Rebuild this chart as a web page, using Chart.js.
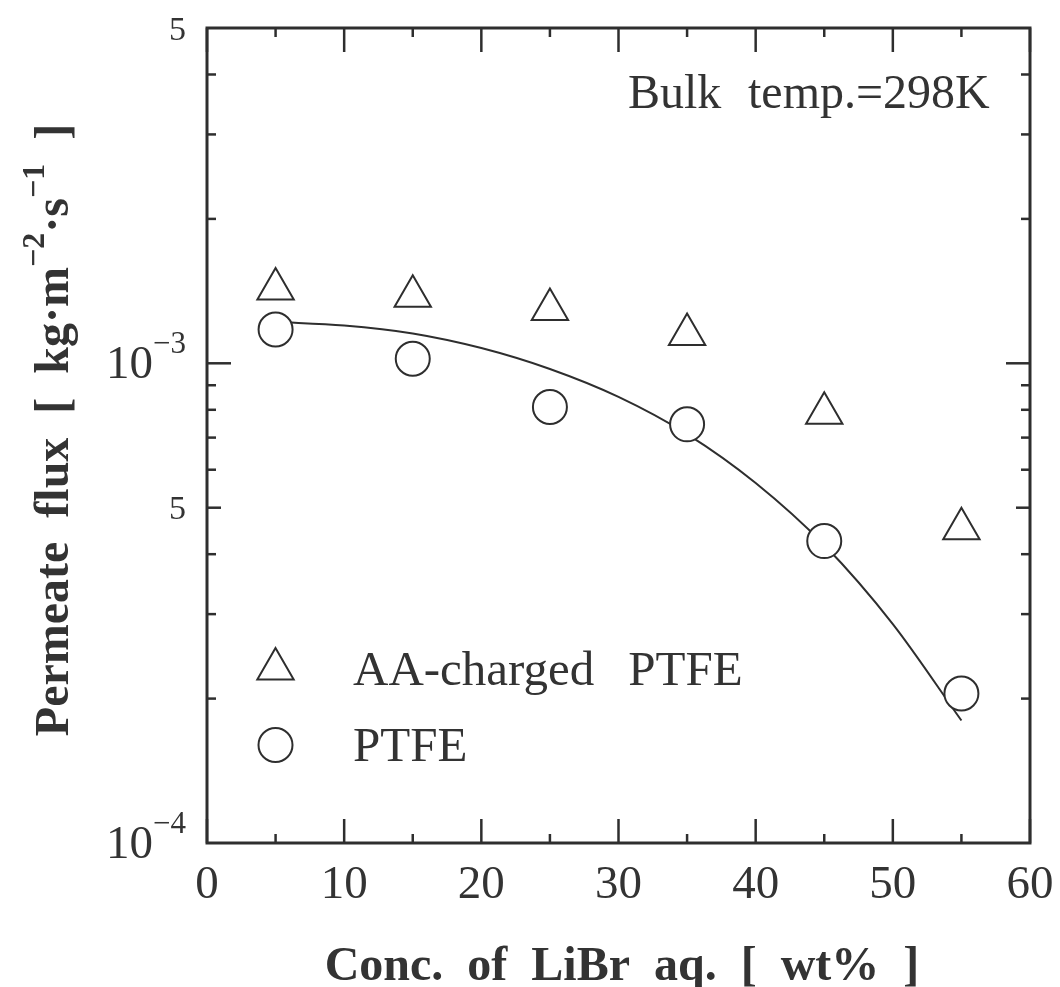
<!DOCTYPE html>
<html>
<head>
<meta charset="utf-8">
<title>Permeate flux vs. LiBr concentration</title>
<script src="https://cdn.jsdelivr.net/npm/chart.js@4.4.1/dist/chart.umd.min.js"></script>
<style>
  html, body { margin: 0; padding: 0; background: #ffffff; }
  canvas { display: block; }
</style>
</head>
<body>
<canvas id="chart" width="1060" height="987"></canvas>
<script>
// LiBr concentration [wt%] of the measured runs
const concentrations = [5, 15, 25, 35, 45, 55];
// Permeate flux [kg m^-2 s^-1]
const fluxAACharged = [1.428e-3, 1.379e-3, 1.295e-3, 1.148e-3, 7.87e-4, 4.52e-4];
const fluxPTFE = [1.176e-3, 1.022e-3, 8.11e-4, 7.46e-4, 4.26e-4, 2.05e-4];
// Fitted curve through the PTFE data
const fitConc = [5, 10, 15, 20, 25, 30, 35, 40, 45, 50, 55];
const fitFlux = [1.22e-3, 1.199e-3, 1.154e-3, 1.076e-3, 9.73e-4, 8.51e-4, 7.12e-4, 5.63e-4, 4.18e-4, 2.86e-4, 1.80e-4];

const seriesNames = ['AA-charged PTFE', 'PTFE'];

// Axis ticks
const xMajorTicks = [0, 10, 20, 30, 40, 50, 60];
const xMinorTicks = [5, 15, 25, 35, 45, 55];
const yMajorTicks = [1e-3];
const yMidTicks = [5e-4];
const yMinorTicks = [2e-4, 3e-4, 4e-4, 6e-4, 7e-4, 8e-4, 9e-4, 2e-3, 3e-3, 4e-3];
const yLabelValues = [5e-3, 1e-3, 5e-4, 1e-4];
const yLabelBases = ['5', '10', '5', '10'];
const yLabelExps = ['', '\u22123', '', '\u22124'];

const INK = '#2e2e2e';
const TEXT = '#333333';
const SERIF = "'Liberation Serif', 'Times New Roman', serif";

function points(xs, ys) {
  return xs.map((x, i) => ({ x: x, y: ys[i] }));
}

function line(ctx, x1, y1, x2, y2) {
  ctx.beginPath();
  ctx.moveTo(x1, y1);
  ctx.lineTo(x2, y2);
  ctx.stroke();
}

function marker(ctx, style, r, x, y) {
  ctx.save();
  ctx.strokeStyle = INK;
  ctx.fillStyle = '#ffffff';
  ctx.lineWidth = 2;
  if (Chart.helpers && Chart.helpers.drawPoint) {
    Chart.helpers.drawPoint(ctx, { pointStyle: style, radius: r, borderWidth: 2, rotation: 0 }, x, y);
  } else {
    ctx.beginPath();
    if (style === 'triangle') {
      for (let k = 0; k < 3; k++) {
        const a = k * 2 * Math.PI / 3;
        const px = x + Math.sin(a) * r, py = y - Math.cos(a) * r;
        if (k === 0) ctx.moveTo(px, py); else ctx.lineTo(px, py);
      }
      ctx.closePath();
    } else {
      ctx.arc(x, y, r, 0, 2 * Math.PI);
    }
    ctx.fill();
    ctx.stroke();
  }
  ctx.restore();
}

// Text with widened gaps between words
function spacedText(ctx, text, x, y, gap) {
  let cx = x;
  text.split(' ').forEach(word => {
    ctx.fillText(word, cx, y);
    cx += ctx.measureText(word).width + gap;
  });
}

// Draws the frame, inward ticks, tick labels, titles, legend and note
const decorations = {
  id: 'decorations',
  afterDraw(chart) {
    const ctx = chart.ctx;
    const a = chart.chartArea;
    const xs = chart.scales.x;
    const ys = chart.scales.y;

    ctx.save();
    ctx.strokeStyle = INK;
    ctx.lineCap = 'butt';

    // ticks on all four sides, pointing inwards
    ctx.lineWidth = 2.5;
    const xTick = (v, len) => {
      const px = xs.getPixelForValue(v);
      line(ctx, px, a.bottom, px, a.bottom - len);
      line(ctx, px, a.top, px, a.top + len);
    };
    const yTick = (v, len) => {
      const py = ys.getPixelForValue(v);
      line(ctx, a.left, py, a.left + len, py);
      line(ctx, a.right, py, a.right - len, py);
    };
    xMajorTicks.forEach(v => xTick(v, 24));
    xMinorTicks.forEach(v => xTick(v, 9));
    yMajorTicks.forEach(v => yTick(v, 24));
    yMidTicks.forEach(v => yTick(v, 14));
    yMinorTicks.forEach(v => yTick(v, 9));

    // frame
    ctx.lineWidth = 3;
    ctx.strokeRect(a.left, a.top, a.right - a.left, a.bottom - a.top);

    ctx.fillStyle = TEXT;

    // x tick labels
    ctx.font = '47px ' + SERIF;
    ctx.textAlign = 'center';
    ctx.textBaseline = 'alphabetic';
    xMajorTicks.forEach(v => {
      ctx.fillText(String(v), xs.getPixelForValue(v), a.bottom + 55);
    });

    // y tick labels (powers of ten with raised exponents)
    const labelRight = a.left - 21;
    yLabelValues.forEach((v, i) => {
      const py = ys.getPixelForValue(v);
      const exp = yLabelExps[i];
      ctx.textBaseline = 'alphabetic';
      if (exp) {
        ctx.font = '31px ' + SERIF;
        const ew = ctx.measureText(exp).width;
        ctx.textAlign = 'left';
        ctx.fillText(exp, labelRight - ew, py - 10);
        ctx.font = '47px ' + SERIF;
        ctx.textAlign = 'right';
        ctx.fillText(yLabelBases[i], labelRight - ew, py + 15);
      } else {
        ctx.font = '34px ' + SERIF;
        ctx.textAlign = 'right';
        ctx.fillText(yLabelBases[i], labelRight, py + 11.5);
      }
    });

    // x axis title
    ctx.font = 'bold 48px ' + SERIF;
    ctx.textAlign = 'center';
    ctx.textBaseline = 'alphabetic';
    ctx.fillText('Conc.  of  LiBr  aq.  [  wt%  ]', 622, 980);

    // y axis title, rotated, with superscript exponents
    const pieces = [
      ['Permeate  flux  [  kg\u00b7m', false],
      ['\u22122', true],
      ['\u00b7s', false],
      ['\u22121', true],
      ['  ]', false]
    ];
    const mainFont = 'bold 48px ' + SERIF;
    const supFont = 'bold 32px ' + SERIF;
    let total = 0;
    pieces.forEach(p => { ctx.font = p[1] ? supFont : mainFont; total += ctx.measureText(p[0]).width; });
    ctx.save();
    ctx.translate(68, 430);
    ctx.rotate(-Math.PI / 2);
    ctx.textAlign = 'left';
    let cx = -total / 2;
    pieces.forEach(p => {
      ctx.font = p[1] ? supFont : mainFont;
      ctx.fillText(p[0], cx, p[1] ? -24 : 0);
      cx += ctx.measureText(p[0]).width;
    });
    ctx.restore();

    // note
    ctx.font = '48px ' + SERIF;
    ctx.textAlign = 'left';
    ctx.fillText('Bulk', 628, 108);
    ctx.fillText('temp.=298K', 748, 108);

    // legend
    marker(ctx, 'triangle', 21, 275.5, 669);
    marker(ctx, 'circle', 17, 275.5, 745);
    ctx.fillStyle = TEXT;
    ctx.font = '49px ' + SERIF;
    ctx.textAlign = 'left';
    spacedText(ctx, seriesNames[0], 353, 685, 34);
    spacedText(ctx, seriesNames[1], 353, 761, 34);

    ctx.restore();
  }
};

new Chart(document.getElementById('chart'), {
  type: 'scatter',
  data: {
    datasets: [
      {
        label: 'fit',
        data: points(fitConc, fitFlux),
        showLine: true,
        borderColor: INK,
        borderWidth: 2,
        pointRadius: 0,
        cubicInterpolationMode: 'monotone',
        fill: false,
        order: 3
      },
      {
        label: seriesNames[0],
        data: points(concentrations, fluxAACharged),
        pointStyle: 'triangle',
        pointRadius: 21,
        pointBorderWidth: 2,
        borderColor: INK,
        backgroundColor: 'rgba(255,255,255,0)',
        order: 1
      },
      {
        label: seriesNames[1],
        data: points(concentrations, fluxPTFE),
        pointStyle: 'circle',
        pointRadius: 17,
        pointBorderWidth: 2,
        borderColor: INK,
        backgroundColor: '#ffffff',
        order: 2
      }
    ]
  },
  options: {
    responsive: false,
    animation: false,
    devicePixelRatio: 1,
    layout: { padding: { left: 207, top: 28, right: 30, bottom: 144 } },
    plugins: { legend: { display: false }, tooltip: { enabled: false } },
    events: [],
    scales: {
      x: { type: 'linear', min: 0, max: 60, display: false },
      y: { type: 'logarithmic', min: 1e-4, max: 5e-3, display: false }
    }
  },
  plugins: [decorations]
});
</script>
</body>
</html>
